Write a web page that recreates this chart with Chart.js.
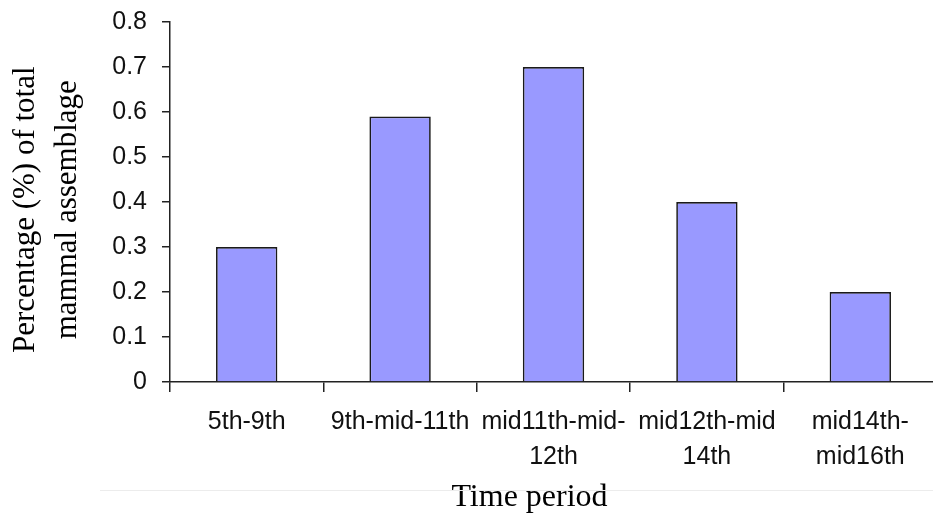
<!DOCTYPE html>
<html>
<head>
<meta charset="utf-8">
<script src="https://cdn.jsdelivr.net/npm/chart.js@4"></script>
<style>
  html, body { margin: 0; padding: 0; background: #fff; overflow: hidden; }
  #wrap { position: relative; width: 933px; height: 519px; overflow: hidden; }
  #sep { position: absolute; left: 100px; top: 490px; width: 833px; height: 1px; background: #ececec; }
</style>
</head>
<body>
<div id="wrap">
  <canvas id="chart" width="937" height="519"></canvas>
  <div id="sep"></div>
</div>
<script>
  const periods = [
    '5th-9th',
    '9th-mid-11th',
    ['mid11th-mid-', '12th'],
    ['mid12th-mid', '14th'],
    ['mid14th-', 'mid16th']
  ];
  const percentages = [0.3, 0.59, 0.7, 0.4, 0.2];
  const yTitle = ['Percentage (%) of total', 'mammal assemblage'];
  const xTitle = 'Time period';

  const sans = 'Liberation Sans, Arial, sans-serif';
  const serif = 'Liberation Serif, Times New Roman, serif';

  new Chart(document.getElementById('chart'), {
    type: 'bar',
    data: {
      labels: periods,
      datasets: [{
        data: percentages,
        backgroundColor: '#9999ff',
        borderColor: '#1a1a1a',
        borderWidth: 1.7,
        borderSkipped: 'bottom',
        barPercentage: 0.4,
        categoryPercentage: 1.0
      }]
    },
    options: {
      responsive: false,
      animation: false,
      layout: { padding: { top: 22, right: 0, bottom: 0, left: 0 } },
      plugins: {
        legend: { display: false },
        tooltip: { enabled: false }
      },
      scales: {
        x: {
          afterFit: s => { s.height = 137; s.paddingLeft = 0; s.paddingRight = 0; },
          grid: { drawOnChartArea: false, tickLength: 10, color: '#222', lineWidth: 1.5, offset: true },
          border: { color: '#222', width: 1.5 },
          ticks: {
            color: '#111',
            font: { family: sans, size: 25, lineHeight: 1.4 },
            padding: 13,
            maxRotation: 0,
            autoSkip: false
          },
          title: {
            display: true,
            // trailing spaces nudge the centred title left, like the original
            text: xTitle + '      ',
            color: '#000',
            font: { family: serif, size: 32, lineHeight: 1.1 },
            padding: { top: 0, bottom: 4 }
          }
        },
        y: {
          min: 0,
          max: 0.8,
          afterFit: s => { s.width = 170; s.paddingTop = 0; s.paddingBottom = 0; },
          grid: { drawOnChartArea: false, tickLength: 8, color: '#222', lineWidth: 1.5 },
          border: { color: '#222', width: 1.5 },
          ticks: {
            stepSize: 0.1,
            color: '#111',
            font: { family: sans, size: 25 },
            padding: 15,
            callback: v => v === 0 ? '0' : v.toFixed(1)
          },
          title: {
            display: true,
            // same trick: pushes the rotated lines down a little
            text: yTitle.map(t => t + '  '),
            color: '#000',
            font: { family: serif, size: 31, lineHeight: 1.38 },
            padding: { top: 4, bottom: 0 }
          }
        }
      }
    }
  });
</script>
</body>
</html>
